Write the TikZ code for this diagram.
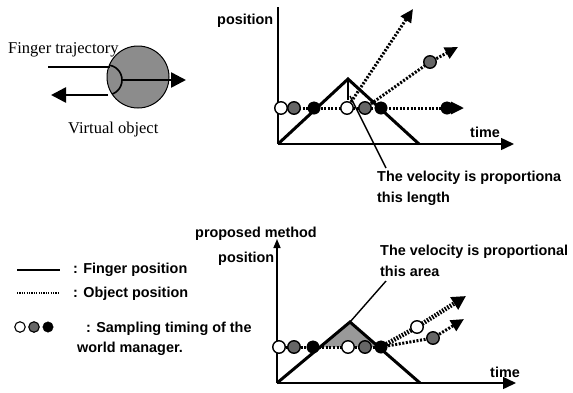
\documentclass[tikz,border=0pt]{standalone}
\usepackage{fontspec}
\setmainfont{Liberation Serif}
\setsansfont{Liberation Sans}
\usetikzlibrary{arrows.meta}
\pgfdeclarelayer{background}
\pgfsetlayers{background,main}
\begin{document}
\begin{tikzpicture}[x=1pt,y=-1pt,
  lbl/.style={font=\fontsize{14.4}{17}\selectfont\sffamily\bfseries, anchor=base west, inner sep=0},
  serif/.style={font=\fontsize{16.5}{19}\selectfont\rmfamily, anchor=base west, inner sep=0},
  axis/.style={line width=1.5pt},
  finger/.style={line width=3pt, line join=miter},
  obj/.style={line width=3pt, dash pattern=on 2pt off 1.6pt},
  objthick/.style={line width=4.5pt, dash pattern=on 1.6pt off 1.4pt},
  tip/.style={-{Triangle[length=13pt,width=12pt]}},
  bigtip/.style={-{Triangle[length=15pt,width=15pt]}},
  opendot/.style={circle, draw, fill=white, line width=1.4pt, minimum size=12.5pt, inner sep=0},
  graydot/.style={circle, draw, fill=black!60, line width=1.4pt, minimum size=12.5pt, inner sep=0},
  blackdot/.style={circle, draw, fill=black, minimum size=12.5pt, inner sep=0},
  pointer/.style={line width=1.4pt},
]
\useasboundingbox (0,0) rectangle (573,392);

% ---------------- left figure ----------------
\node[circle, draw, line width=1pt, fill=black!45, minimum size=62pt, inner sep=0] (vo) at (138,77) {};
\begin{scope}
  \clip (138,77) circle (31);
  \draw[line width=1.6pt] (107,80) circle (15);
\end{scope}
\coordinate (fa) at (48,67);
\coordinate (fb) at (110,67);
\coordinate (fc) at (122,80);
\coordinate (fd) at (186,80);
\coordinate (fe) at (108,95);
\coordinate (ff) at (51,95);
\draw[line width=2.6pt] (fa) -- (fb);
\draw[line width=2.6pt, bigtip] (fc) -- (fd);
\draw[line width=2.6pt, bigtip] (fe) -- (ff);
\node[serif] (ftxt) at (8,53) {Finger trajectory};
\node[serif] (vtxt) at (68,133) {Virtual object};

% ---------------- upper graph ----------------
\coordinate (o1) at (278,144);
\coordinate (y1) at (278,7);
\coordinate (x1) at (514,144);
\coordinate (a1) at (348,79);
\coordinate (e1) at (419,144);
\coordinate (v1) at (348,100);
\coordinate (h1) at (464,108);
\coordinate (h2) at (413,9);
\coordinate (h3) at (458,47);
\coordinate (p1s) at (350,96);
\coordinate (p1e) at (386,168);

\node[opendot]  (d11) at (281,108) {};
\node[graydot]  (d12) at (294,108) {};
\node[blackdot] (d13) at (314,108) {};
\node[opendot]  (d14) at (347,108) {};
\node[graydot]  (d15) at (365,108) {};
\node[blackdot] (d16) at (381,108) {};
\node[blackdot] (d17) at (447,108) {};
\node[graydot]  (g2)  at (430,62) {};

\begin{pgfonlayer}{background}
\draw[axis] (y1) -- (o1);
\draw[axis, tip] (o1) -- (x1);
\draw[finger] (o1) -- (a1) -- (e1);
\draw[line width=2.4pt] (a1) -- (v1);
\draw[pointer] (p1s) -- (p1e);
\draw[obj, tip] (d11.center) -- (h1);
\draw[obj, tip] (d14.center) -- (h2);
\draw[obj] (d15.center) -- (g2.center);
\draw[obj, tip] (g2.center) -- (h3);
\end{pgfonlayer}

\node[lbl] (pos1) at (217,24) {position};
\node[lbl] (time1) at (470,137) {time};
\node[lbl] (vel1) at (377,181) {The velocity is proportiona};
\node[lbl] (len1) at (377,202) {this length};

% ---------------- lower graph ----------------
\coordinate (o2) at (277,383);
\coordinate (y2) at (277,239);
\coordinate (x2) at (516,383);
\coordinate (a2) at (350,322);
\coordinate (e2) at (420,383);
\coordinate (h4) at (466,296);
\coordinate (h5) at (464,319);
\coordinate (p2e) at (386,281);

\node[opendot]  (l1) at (279,347) {};
\node[graydot]  (l2) at (294,347) {};
\node[blackdot] (l3) at (313,347) {};
\node[opendot]  (l4) at (348,347) {};
\node[graydot]  (l5) at (365,347) {};
\node[blackdot] (l6) at (381,347) {};
\node[opendot]  (m1) at (417,327) {};
\node[graydot]  (m2) at (433,338) {};

\begin{pgfonlayer}{background}
\fill[black!40] (320,347) -- (a2) -- (379,347) -- cycle;
\draw[axis, -{Triangle[length=9pt,width=7pt]}] (o2) -- (y2);
\draw[axis, tip] (o2) -- (x2);
\draw[finger] (o2) -- (a2) -- (e2);
\draw[pointer] (a2) -- (p2e);
\draw[obj] (l1.center) -- (l6.center);
\draw[objthick] (l6.center) -- (m1.center);
\draw[objthick, -{Triangle[length=14pt,width=14pt]}] (m1.center) -- (h4);
\draw[obj] (l6.center) -- (m2.center);
\draw[obj, tip] (m2.center) -- (h5);
\end{pgfonlayer}

\node[lbl] (pm) at (195,237) {proposed method};
\node[lbl] (pos2) at (218,262) {position};
\node[lbl] (time2) at (490,377) {time};
\node[lbl] (vel2) at (380,255) {The velocity is proportional};
\node[lbl] (area2) at (380,276) {this area};

% ---------------- legend ----------------
\coordinate (la) at (17,270);
\coordinate (lb) at (60,270);
\coordinate (lc) at (17,293);
\coordinate (ld) at (60,293);
\draw[line width=2.5pt] (la) -- (lb);
\draw[line width=1.6pt, dash pattern=on 1.2pt off 1.2pt] (lc) -- (ld);
\node[opendot, minimum size=10.5pt, line width=1.1pt]  (k1) at (20,327) {};
\node[graydot, minimum size=10.5pt, line width=1.1pt]  (k2) at (34,327) {};
\node[blackdot, minimum size=10.5pt] (k3) at (48,327) {};
\node[lbl] (lg1) at (73,273) {: Finger position};
\node[lbl] (lg2) at (73,297) {: Object position};
\node[lbl] (lg3) at (86,332) {: Sampling timing of the};
\node[lbl] (lg4) at (77,352) {world manager.};
\end{tikzpicture}
\end{document}
